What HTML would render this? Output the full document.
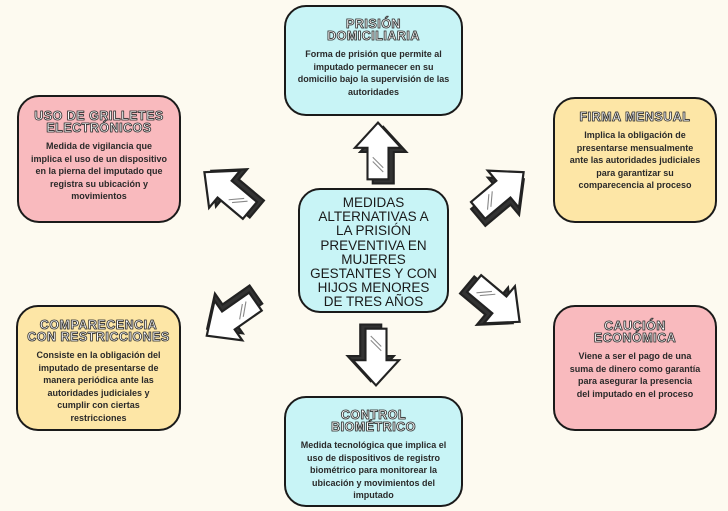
<!DOCTYPE html>
<html><head><meta charset="utf-8"><style>
body{margin:0;width:728px;height:511px;background:#fdfaf0;position:relative;overflow:hidden;font-family:"Liberation Sans",sans-serif;}
.b{position:absolute;border:2.5px solid #1a1a1a;border-radius:22px;box-sizing:border-box;text-align:center;color:#222;}
.t{font-weight:bold;font-size:12.5px;line-height:12px;color:#fff;letter-spacing:0.5px;-webkit-text-stroke:0.8px #333;text-shadow:0 0 1px #333;margin-bottom:6px;}
.d{font-size:9px;line-height:12.5px;font-weight:bold;color:#2a2a2a;white-space:nowrap;}
.c{background:#c8f4f6}.p{background:#f9babe}.y{background:#fde6a6}
</style></head><body>
<div class="b c" style="left:284px;top:5px;width:179px;height:111px;padding:11px 4px 0">
<div class="t">PRISIÓN<br>DOMICILIARIA</div>
<div class="d">Forma de prisión que permite al<br>imputado permanecer en su<br>domicilio bajo la supervisión de las<br>autoridades</div></div>
<div class="b p" style="left:17px;top:95px;width:164px;height:128px;padding:13px 2px 0">
<div class="t">USO DE GRILLETES<br>ELECTRÓNICOS</div>
<div class="d">Medida de vigilancia que<br>implica el uso de un dispositivo<br>en la pierna del imputado que<br>registra su ubicación y<br>movimientos</div></div>
<div class="b y" style="left:553px;top:97px;width:164px;height:126px;padding:12px 2px 0">
<div class="t">FIRMA MENSUAL</div>
<div class="d">Implica la obligación de<br>presentarse mensualmente<br>ante las autoridades judiciales<br>para garantizar su<br>comparecencia al proceso</div></div>
<div class="b y" style="left:16px;top:305px;width:165px;height:126px;padding:12px 2px 0">
<div class="t">COMPARECENCIA<br>CON RESTRICCIONES</div>
<div class="d">Consiste en la obligación del<br>imputado de presentarse de<br>manera periódica ante las<br>autoridades judiciales y<br>cumplir con ciertas<br>restricciones</div></div>
<div class="b p" style="left:553px;top:305px;width:164px;height:126px;padding:13px 2px 0">
<div class="t">CAUCIÓN<br>ECONÓMICA</div>
<div class="d">Viene a ser el pago de una<br>suma de dinero como garantía<br>para asegurar la presencia<br>del imputado en el proceso</div></div>
<div class="b c" style="left:284px;top:396px;width:179px;height:111px;padding:11px 2px 0">
<div class="t">CONTROL<br>BIOMÉTRICO</div>
<div class="d">Medida tecnológica que implica el<br>uso de dispositivos de registro<br>biométrico para monitorear la<br>ubicación y movimientos del<br>imputado</div></div>
<div class="b c" style="left:298px;top:188px;width:151px;height:125px;padding:6px 0 0;font-size:13.5px;line-height:14.2px;color:#1a1a1a;white-space:nowrap">MEDIDAS<br>ALTERNATIVAS A<br>LA PRISIÓN<br>PREVENTIVA EN<br>MUJERES<br>GESTANTES Y CON<br>HIJOS MENORES<br>DE TRES AÑOS</div>
<svg width="728" height="511" style="position:absolute;left:0;top:0">
<defs><g id="a">
<polygon points="5,-24 27,0 15,0 15,30 -5,30 -5,0 -17,0" fill="#333" stroke="#222" stroke-width="2"/>
<polygon points="0,-28 22,-4 10,-4 10,26 -10,26 -10,-4 -22,-4" fill="#fff" stroke="#222" stroke-width="2"/>
<line x1="-5" y1="5" x2="5" y2="15" stroke="#888" stroke-width="1"/>
<line x1="-5" y1="9" x2="5" y2="19" stroke="#888" stroke-width="1"/>
</g></defs>
<use href="#a" transform="translate(378,152) scale(1.05)"/>
<use href="#a" transform="translate(228,192) rotate(-50) scale(1.1)"/>
<use href="#a" transform="translate(500,192) rotate(50) scale(1.1)"/>
<use href="#a" transform="translate(232,318) rotate(-125) scale(1.1)"/>
<use href="#a" transform="translate(496,302) rotate(130) scale(1.1)"/>
<use href="#a" transform="translate(376,356) rotate(180) scale(1.05)"/>
</svg>
</body></html>
